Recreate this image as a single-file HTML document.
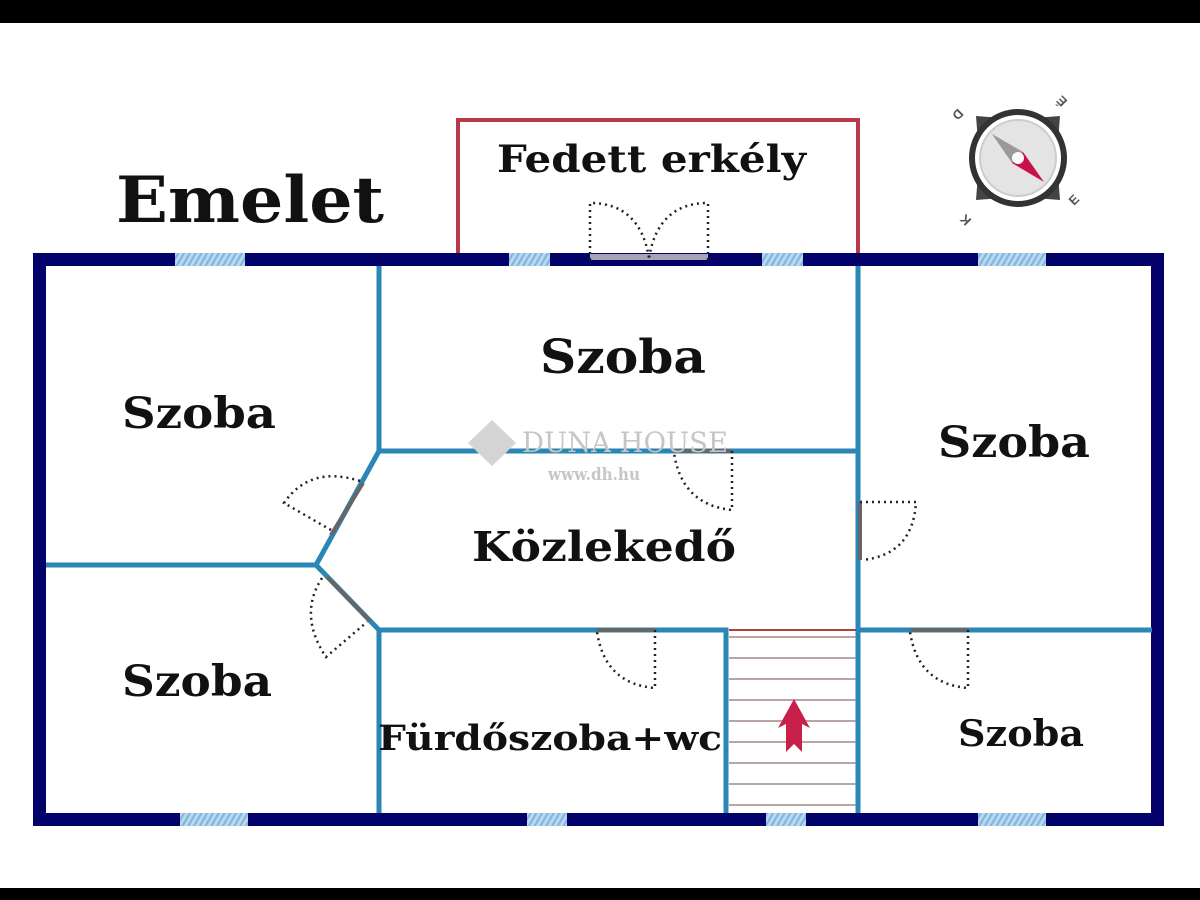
<!DOCTYPE html>
<html><head><meta charset="utf-8"><style>
html,body{margin:0;padding:0;background:#fff}
svg{display:block}
text{font-family:"DejaVu Serif","Liberation Serif",serif;font-weight:bold;fill:#111}
</style></head><body>
<svg width="1200" height="900" viewBox="0 0 1200 900" xmlns="http://www.w3.org/2000/svg">
<defs>
<pattern id="h" width="5" height="5" patternUnits="userSpaceOnUse" patternTransform="rotate(30)">
<rect width="5" height="5" fill="#b8d8ee"/><rect width="2" height="5" fill="#7fb4dc"/>
</pattern>
</defs>
<rect x="0" y="0" width="1200" height="23" fill="#000"/>
<rect x="0" y="888" width="1200" height="12" fill="#000"/>

<rect x="458" y="120" width="400" height="140" fill="none" stroke="#b83a48" stroke-width="4"/>
<rect x="450" y="256" width="420" height="10" fill="#fff"/>

<rect x="39.5" y="259.5" width="1118" height="560" fill="none" stroke="#02026a" stroke-width="13"/>
<rect x="175" y="253" width="70" height="13" fill="url(#h)"/>
<rect x="509" y="253" width="41" height="13" fill="url(#h)"/>
<rect x="762" y="253" width="41" height="13" fill="url(#h)"/>
<rect x="978" y="253" width="68" height="13" fill="url(#h)"/>
<rect x="180" y="813" width="68" height="13" fill="url(#h)"/>
<rect x="527" y="813" width="40" height="13" fill="url(#h)"/>
<rect x="766" y="813" width="40" height="13" fill="url(#h)"/>
<rect x="978" y="813" width="68" height="13" fill="url(#h)"/>
<rect x="590" y="254" width="118" height="6" fill="#a9a3b8"/>
<g fill="none" stroke="#222" stroke-width="2.5" stroke-dasharray="2 4">
<path d="M590 260 V203 Q640 203 649 258"/>
<path d="M708 260 V203 Q658 203 649 258"/>
</g>

<g fill="none" stroke="#2a86b4" stroke-width="5" stroke-linejoin="miter">
<path d="M379 266 V451 H858"/>
<path d="M858 266 V813"/>
<path d="M379 451 L316 565 L379 630 H726 V813"/>
<path d="M46 565 H316"/>
<path d="M379 630 V813"/>
<path d="M858 630 H1152"/>
</g>
<g stroke="#666" stroke-width="4">
<line x1="363" y1="483" x2="331" y2="535"/>
<line x1="327" y1="577" x2="370" y2="621"/>
<line x1="860" y1="502" x2="860" y2="560"/>
<line x1="597" y1="630" x2="655" y2="630"/>
<line x1="911" y1="630" x2="968" y2="630"/>
<line x1="674" y1="451" x2="732" y2="451"/>
</g>
<g fill="none" stroke="#222" stroke-width="2.5" stroke-dasharray="2 4">
<path d="M360 481 Q310 465 284 503 L331 530"/>
<path d="M322 578 Q298 615 326 657 L367 622"/>
<path d="M860 502 H916 Q913 555 862 560"/>
<path d="M655 630 V688 Q605 684 597 632"/>
<path d="M968 630 V688 Q918 684 910 632"/>
<path d="M732 451 V510 Q682 505 674 453"/>
</g>

<line x1="729" y1="630" x2="856" y2="630" stroke="#b04040" stroke-width="2"/>
<g stroke="#a08888" stroke-width="1.5">
<line x1="729" y1="637" x2="856" y2="637"/>
<line x1="729" y1="658" x2="856" y2="658"/>
<line x1="729" y1="679" x2="856" y2="679"/>
<line x1="729" y1="700" x2="856" y2="700"/>
<line x1="729" y1="721" x2="856" y2="721"/>
<line x1="729" y1="742" x2="856" y2="742"/>
<line x1="729" y1="763" x2="856" y2="763"/>
<line x1="729" y1="784" x2="856" y2="784"/>
<line x1="729" y1="805" x2="856" y2="805"/>
</g>
<path d="M794 699 L810 728 L802 724 L802 752 L794 744 L786 752 L786 724 L778 728 Z" fill="#c8204a"/>

<g transform="translate(1018,158)">
<path d="M-42 -42 L-16 -40 L-40 -16 Z M42 -42 L40 -16 L16 -40 Z M42 42 L16 40 L40 16 Z M-42 42 L-40 16 L-16 40 Z" fill="#444"/>
<circle r="46" fill="#fff" stroke="#333" stroke-width="6"/>
<circle r="38" fill="#e4e4e4" stroke="#ccc" stroke-width="2"/>
<path d="M-26 -24 L5 -6 L-6 5 Z" fill="#999"/>
<path d="M26 24 L5 -6 L-6 5 Z" fill="#c8104a"/>
<circle r="6" fill="#fafafa"/>
<text font-size="13" transform="translate(-60,-50) rotate(135)" style="font-family:'Liberation Sans',sans-serif;fill:#555">D</text>
<text font-size="13" transform="translate(50,-57) rotate(-135)" style="font-family:'Liberation Sans',sans-serif;fill:#555">É</text>
<text font-size="13" transform="translate(56,48) rotate(-45)" style="font-family:'Liberation Sans',sans-serif;fill:#555">E</text>
<text font-size="13" transform="translate(-46,62) rotate(-135)" style="font-family:'Liberation Sans',sans-serif;fill:#555">K</text>
</g>

<path d="M492 420 L516 443 L492 466 L468 443 Z" fill="#d4d4d4"/>
<text x="522" y="452" font-size="28" textLength="206" lengthAdjust="spacingAndGlyphs" style="font-weight:normal;fill:#c6c6c6">DUNA HOUSE</text>
<text x="548" y="480" font-size="17" textLength="92" lengthAdjust="spacingAndGlyphs" style="fill:#c6c6c6">www.dh.hu</text>

<text x="116" y="222" font-size="64" textLength="268" lengthAdjust="spacingAndGlyphs">Emelet</text>
<text x="497" y="172" font-size="37" textLength="309" lengthAdjust="spacingAndGlyphs">Fedett erkély</text>
<text x="540" y="373" font-size="47" textLength="166" lengthAdjust="spacingAndGlyphs">Szoba</text>
<text x="122" y="428" font-size="43" textLength="154" lengthAdjust="spacingAndGlyphs">Szoba</text>
<text x="938" y="457" font-size="43" textLength="152" lengthAdjust="spacingAndGlyphs">Szoba</text>
<text x="472" y="561" font-size="41" textLength="264" lengthAdjust="spacingAndGlyphs">Közlekedő</text>
<text x="122" y="696" font-size="43" textLength="150" lengthAdjust="spacingAndGlyphs">Szoba</text>
<text x="378" y="750" font-size="35" textLength="344" lengthAdjust="spacingAndGlyphs">Fürdőszoba+wc</text>
<text x="958" y="746" font-size="36" textLength="126" lengthAdjust="spacingAndGlyphs">Szoba</text>
</svg>
</body></html>
